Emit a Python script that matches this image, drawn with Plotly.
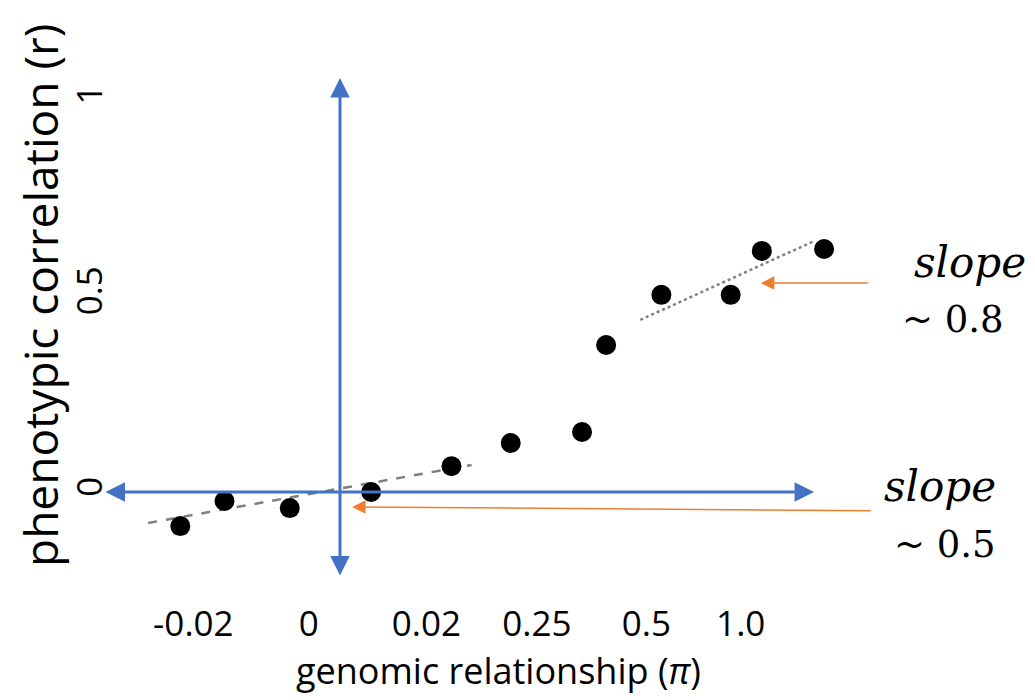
import plotly.graph_objects as go

# x positions on a display scale (tick "0" at 0, one unit ~ spacing between ticks)
tick_pos = [-1.15, 0.0, 1.17, 2.27, 3.36, 4.30]
tick_labels = ["-0.02", "0", "0.02", "0.25", "0.5", "1.0"]

pt_x = [-1.28, -0.84, -0.19, 0.62, 1.42, 2.01, 2.72, 2.96, 3.51, 4.20, 4.51, 5.13]
pt_r = [-0.087, -0.023, -0.041, 0.0, 0.066, 0.125, 0.153, 0.375, 0.503, 0.503, 0.615, 0.62]

y_ticks = [0, 0.5, 1]
y_tick_labels = ["0", "0.5", "1"]

# fitted guide lines
dash_x = [-1.60, 1.62]
dash_y = [-0.079, 0.069]
dot_x = [3.30, 5.03]
dot_y = [0.439, 0.640]

BLUE = "#4472C4"
ORANGE = "#ED7D31"
GREY = "#7F7F7F"

fig = go.Figure()
fig.add_trace(go.Scatter(x=dash_x, y=dash_y, mode="lines",
                         line=dict(color=GREY, width=2.5, dash="dash"), showlegend=False))
fig.add_trace(go.Scatter(x=dot_x, y=dot_y, mode="lines",
                         line=dict(color=GREY, width=2.5, dash="dot"), showlegend=False))

# blue axes with arrowheads at both ends
fig.add_annotation(x=0.31, y=1.056, ax=0.31, ay=-0.217, xref="x", yref="y",
                   axref="x", ayref="y", showarrow=True, arrowhead=2, arrowside="end+start",
                   arrowsize=1.3, arrowwidth=3, arrowcolor=BLUE, text="")
fig.add_annotation(x=5.03, y=0, ax=-2.04, ay=0, xref="x", yref="y",
                   axref="x", ayref="y", showarrow=True, arrowhead=2, arrowside="end+start",
                   arrowsize=1.3, arrowwidth=3, arrowcolor=BLUE, text="")

fig.add_trace(go.Scatter(x=pt_x, y=pt_r, mode="markers",
                         marker=dict(color="black", size=20), showlegend=False))

# orange arrows
fig.add_annotation(x=4.50, y=0.533, ax=5.58, ay=0.533, xref="x", yref="y",
                   axref="x", ayref="y", showarrow=True, arrowhead=2,
                   arrowsize=1.8, arrowwidth=1.5, arrowcolor=ORANGE, text="")
fig.add_annotation(x=0.43, y=-0.038, ax=5.61, ay=-0.048, xref="x", yref="y",
                   axref="x", ayref="y", showarrow=True, arrowhead=2,
                   arrowsize=1.8, arrowwidth=1.5, arrowcolor=ORANGE, text="")

sfont = dict(family="DejaVu Serif", size=42, color="black")
nfont = dict(family="DejaVu Serif", size=37, color="black")
fig.add_annotation(x=6.58, y=0.586, xref="x", yref="y", showarrow=False,
                   text="<i>slope</i>", font=sfont)
fig.add_annotation(x=6.41, y=0.439, xref="x", yref="y", showarrow=False,
                   text="~ 0.8", font=nfont)
fig.add_annotation(x=6.28, y=0.013, xref="x", yref="y", showarrow=False,
                   text="<i>slope</i>", font=sfont)
fig.add_annotation(x=6.33, y=-0.135, xref="x", yref="y", showarrow=False,
                   text="~ 0.5", font=nfont)

# axis titles
fig.add_annotation(x=0.4195, y=-0.118, xref="paper", yref="paper", showarrow=False,
                   xanchor="center", yanchor="middle", borderpad=0,
                   text="genomic relationship (<i>π</i>)", font=dict(size=36))
fig.add_annotation(x=-0.0757, y=0.5083, xref="paper", yref="paper", showarrow=False,
                   xanchor="center", yanchor="middle", textangle=-90,
                   text="phenotypic correlation (r)", font=dict(size=46))

fig.update_layout(
    width=1035, height=700,
    margin=dict(l=110, r=0, t=0, b=100),
    plot_bgcolor="white", paper_bgcolor="white",
    font=dict(family="Open Sans", color="black"),
    xaxis=dict(range=[-1.98, 7.23], tickvals=tick_pos, ticktext=tick_labels,
               showgrid=False, zeroline=False, showline=False, ticks="",
               tickfont=dict(size=35)),
    yaxis=dict(range=[-0.2755, 1.2551], tickvals=y_ticks, ticktext=y_tick_labels,
               showgrid=False, zeroline=False, showline=False, ticks="",
               tickangle=-90, tickfont=dict(size=35)),
)

fig.write_html("out.html")
